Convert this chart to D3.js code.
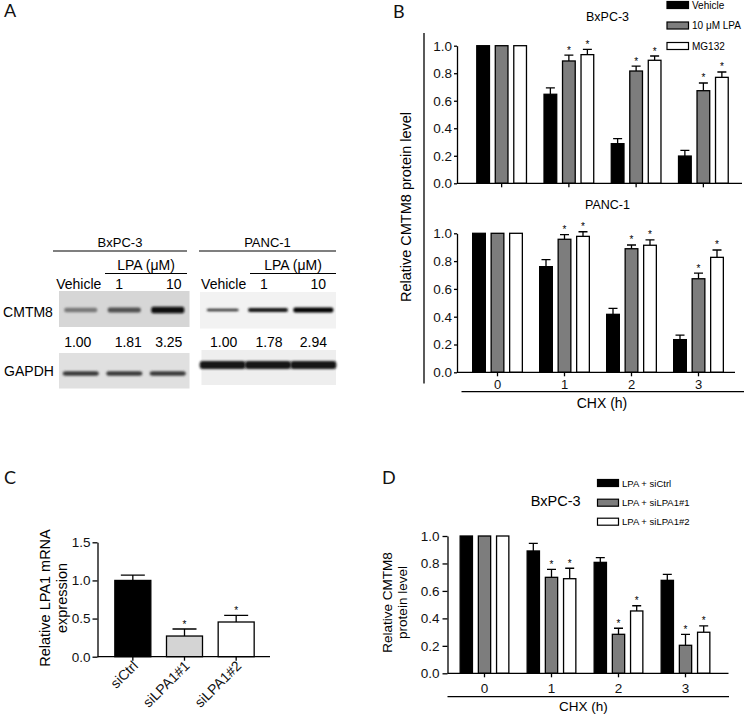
<!DOCTYPE html>
<html><head><meta charset="utf-8">
<script src="https://cdn.jsdelivr.net/npm/d3@7"></script>
<style>body{margin:0;background:#fff}</style>
</head><body>
<script>
// ---------------- data ----------------
const chxHours = ["0","1","2","3"];
const seriesB = ["Vehicle","10 μM LPA","MG132"];
const bxpcVehicle = [1.00,0.647,0.288,0.198];
const bxpcLPA     = [1.00,0.889,0.816,0.673];
const bxpcMG132   = [1.00,0.935,0.894,0.770];
const bxpcVehicleErr = [0,0.046,0.036,0.042];
const bxpcLPAErr     = [0,0.043,0.036,0.056];
const bxpcMG132Err   = [0,0.039,0.031,0.039];
const pancVehicle = [1.00,0.760,0.417,0.235];
const pancLPA     = [1.00,0.957,0.889,0.673];
const pancMG132   = [1.00,0.978,0.914,0.827];
const pancVehicleErr = [0,0.050,0.043,0.033];
const pancLPAErr     = [0,0.033,0.027,0.041];
const pancMG132Err   = [0,0.033,0.038,0.053];
const starsNone = [false,false,false,false];
const starsB    = [false,true,true,true];
const yTicksB = [0,0.2,0.4,0.6,0.8,1.0];

const siGroups = ["siCtrl","siLPA1#1","siLPA1#2"];
const lpa1mRNA    = [1.00,0.271,0.455];
const lpa1mRNAErr = [0.07,0.092,0.087];
const lpa1Stars   = [false,true,true];
const yTicksC = [0,0.5,1.0,1.5];

const seriesD = ["LPA + siCtrl","LPA + siLPA1#1","LPA + siLPA1#2"];
const dSiCtrl = [1.00,0.891,0.808,0.677];
const dSi1    = [1.00,0.699,0.284,0.204];
const dSi2    = [1.00,0.689,0.454,0.299];
const dSiCtrlErr = [0,0.056,0.034,0.044];
const dSi1Err    = [0,0.058,0.044,0.080];
const dSi2Err    = [0,0.076,0.038,0.046];

const blotLanes = ["Vehicle","1","10"];
const bxpcQuant = ["1.00","1.81","3.25"];
const pancQuant = ["1.00","1.78","2.94"];

// ---------------- drawing ----------------
const FONT = "'Liberation Sans', Arial, Helvetica, sans-serif";
const LETTER = "Lato, 'Open Sans', sans-serif";
const fills = ["#000000","#7d7d7d","#ffffff"];
const cFills = ["#000000","#d4d4d4","#ffffff"];

const svg = d3.select("body").append("svg")
  .attr("width",744).attr("height",716)
  .style("font-family",FONT).style("background","#fff");

const defs = svg.append("defs");
defs.append("filter").attr("id","blur").attr("x","-20%").attr("y","-100%").attr("width","140%").attr("height","300%")
  .append("feGaussianBlur").attr("stdDeviation",0.9);

function panelLetter(t,x,y){
  svg.append("text").attr("x",x).attr("y",y).text(t)
    .style("font-family",LETTER).style("font-size","18px").attr("fill","#111");
}

function groupedBars(cfg){
  const g = svg.append("g");
  const x = d3.scaleBand().domain(cfg.groups).range(cfg.bandRange);
  const y = d3.scaleLinear().domain(cfg.yDomain).range(cfg.yRange);
  const n = cfg.series.length;
  const sub = d3.scaleBand().domain(d3.range(n)).range([-cfg.step*n/2, cfg.step*n/2]);
  cfg.series.forEach((s,i)=>{
    const cxf = (k)=> x(k)+x.bandwidth()/2 + (n>1 ? sub(i)+sub.bandwidth()/2 : 0);
    const data = cfg.groups.map((k,j)=>({k, v:s.vals[j], e:s.errs[j], star:s.stars[j],
      fill: Array.isArray(s.fill) ? s.fill[j] : s.fill}));
    g.selectAll(null).data(data.filter(d=>d.e>0)).enter().append("path")
      .attr("d",d=>{const c=cxf(d.k), yt=y(d.v+d.e);
        return `M${c},${y(d.v)}V${yt}M${c-cfg.capW/2},${yt}H${c+cfg.capW/2}`;})
      .attr("stroke","#000").attr("stroke-width",1.3).attr("fill","none");
    g.selectAll(null).data(data).enter().append("rect")
      .attr("x",d=>cxf(d.k)-cfg.barW/2).attr("width",cfg.barW)
      .attr("y",d=>y(d.v)).attr("height",d=>y(0)-y(d.v))
      .attr("fill",d=>d.fill).attr("stroke","#000").attr("stroke-width",1.3);
    g.selectAll(null).data(data.filter(d=>d.star)).enter().append("text")
      .attr("x",d=>cxf(d.k)).attr("y",d=>y(d.v+d.e)-1.5)
      .attr("text-anchor","middle").style("font-size","10px").text("*");
  });
  const ya = g.append("g").attr("transform",`translate(${cfg.axisX0},0)`)
    .call(d3.axisLeft(y).tickValues(cfg.yTicks).tickFormat(cfg.fmt)
      .tickSize(cfg.tickLen).tickSizeOuter(0).tickPadding(cfg.tickPad));
  ya.selectAll("path,line").attr("stroke","#000").attr("stroke-width",1.3);
  ya.selectAll("text").style("font-family",FONT).style("font-size",cfg.tickFont+"px").attr("fill","#111");
  g.append("line").attr("x1",cfg.axisX0).attr("x2",cfg.axisX1)
    .attr("y1",y(0)).attr("y2",y(0)).attr("stroke","#000").attr("stroke-width",1.3);
  g.selectAll(null).data(cfg.groups).enter().append("line")
    .attr("x1",d=>x(d)+x.bandwidth()/2).attr("x2",d=>x(d)+x.bandwidth()/2)
    .attr("y1",y(0)).attr("y2",y(0)+4).attr("stroke","#000").attr("stroke-width",1.3);
  if (cfg.xLabels === "plain"){
    g.selectAll(null).data(cfg.groups).enter().append("text")
      .attr("x",d=>x(d)+x.bandwidth()/2).attr("y",y(0)+cfg.xLabelDy)
      .attr("text-anchor","middle").style("font-size",cfg.xFont+"px").attr("fill","#111").text(d=>d);
  } else if (cfg.xLabels === "rot"){
    g.selectAll(null).data(cfg.groups).enter().append("text")
      .attr("transform",d=>`translate(${x(d)+x.bandwidth()/2+6},${y(0)+cfg.xLabelDy}) rotate(-45)`)
      .attr("text-anchor","end").style("font-size",cfg.xFont+"px").attr("fill","#111").text(d=>d);
  }
  return {x,y};
}

// ---------- Panel A (western blots) ----------
panelLetter("A",4,17);
const aFont = "14px";
function blotSet(cfg){
  const lane = d3.scaleBand().domain(blotLanes).range([cfg.x0,cfg.x1]);
  const lc = d => lane(d)+lane.bandwidth()/2;
  svg.append("text").attr("x",(cfg.lineX0+cfg.lineX1)/2).attr("y",247).attr("text-anchor","middle")
    .style("font-size","13px").text(cfg.cell);
  svg.append("line").attr("x1",cfg.lineX0).attr("x2",cfg.lineX1).attr("y1",251).attr("y2",251)
    .attr("stroke","#000").attr("stroke-width",1.2);
  svg.append("text").attr("x",(cfg.lpaX0+cfg.lineX1)/2).attr("y",269.5).attr("text-anchor","middle")
    .style("font-size",aFont).text("LPA (μM)");
  svg.append("line").attr("x1",cfg.lpaX0).attr("x2",cfg.lineX1).attr("y1",273.5).attr("y2",273.5)
    .attr("stroke","#000").attr("stroke-width",1.2);
  svg.selectAll(null).data(blotLanes).enter().append("text")
    .attr("x",(d,i)=>lc(d)+cfg.labelDx[i]).attr("y",289).attr("text-anchor","middle")
    .style("font-size",aFont).text(d=>d);
  svg.append("rect").attr("x",cfg.x0).attr("y",cfg.c8y0).attr("width",cfg.x1-cfg.x0).attr("height",cfg.c8y1-cfg.c8y0)
    .attr("fill",cfg.c8bg);
  svg.selectAll(null).data(blotLanes).enter().append("rect")
    .attr("x",(d,i)=>lc(d)-cfg.c8w[i]/2).attr("width",(d,i)=>cfg.c8w[i])
    .attr("y",(d,i)=>310-cfg.c8h[i]/2).attr("height",(d,i)=>cfg.c8h[i])
    .attr("rx",2).attr("fill",(d,i)=>cfg.c8col[i]).attr("filter","url(#blur)");
  svg.selectAll(null).data(cfg.quant).enter().append("text")
    .attr("x",(d,i)=>lc(blotLanes[i])+cfg.qDx[i]).attr("y",347).attr("text-anchor","middle")
    .style("font-size",aFont).text(d=>d);
  svg.append("rect").attr("x",cfg.gx0).attr("y",cfg.gy0).attr("width",cfg.gx1-cfg.gx0).attr("height",cfg.gy1-cfg.gy0)
    .attr("fill",cfg.gbg);
  svg.selectAll(null).data(blotLanes).enter().append("rect")
    .attr("x",d=>lc(d)-cfg.gw/2).attr("width",cfg.gw)
    .attr("y",cfg.gBand-cfg.gh/2).attr("height",cfg.gh)
    .attr("rx",3).attr("fill",cfg.gcol).attr("filter","url(#blur)");
}
blotSet({cell:"BxPC-3", lineX0:53, lineX1:187, lpaX0:105, x0:59, x1:189.5,
  labelDx:[-2,-5,6], qDx:[-3,4,1],
  c8y0:291, c8y1:327, c8bg:"#d6d6d6", c8w:[33,33,33], c8h:[4.5,5,6.5], c8col:["#777","#505050","#111"],
  quant:bxpcQuant, gx0:59, gx1:189.5, gy0:353, gy1:388.5, gbg:"#e0e0e0", gBand:373.5, gw:36, gh:4.5, gcol:"#3a3a3a"});
blotSet({cell:"PANC-1", lineX0:199, lineX1:336, lpaX0:250, x0:200, x1:336,
  labelDx:[1,-4,5], qDx:[1,1,0],
  c8y0:292, c8y1:328.5, c8bg:"#f2f2f2", c8w:[32,40,40], c8h:[2.5,4,5], c8col:["#333","#151515","#050505"],
  quant:pancQuant, gx0:201.5, gx1:336, gy0:350, gy1:385, gbg:"#eeeeee", gBand:365, gw:46, gh:8, gcol:"#151515"});
svg.append("text").attr("x",28).attr("y",317).attr("text-anchor","middle").style("font-size",aFont).text("CMTM8");
svg.append("text").attr("x",29).attr("y",375.5).attr("text-anchor","middle").style("font-size",aFont).text("GAPDH");

// ---------- Panel B ----------
panelLetter("B",393,18);
const fmt1 = d3.format(".1f");
groupedBars({groups:chxHours, bandRange:[468,737], yDomain:[0,1], yRange:[183.3,45.7],
  axisX0:457, axisX1:742, step:18.5, barW:12.7, capW:9, yTicks:yTicksB, fmt:fmt1,
  tickLen:3, tickPad:2, tickFont:13.5, xLabels:"none",
  series:[{vals:bxpcVehicle, errs:bxpcVehicleErr, fill:fills[0], stars:starsNone},
          {vals:bxpcLPA, errs:bxpcLPAErr, fill:fills[1], stars:starsB},
          {vals:bxpcMG132, errs:bxpcMG132Err, fill:fills[2], stars:starsB}]});
groupedBars({groups:chxHours, bandRange:[464,732], yDomain:[0,1], yRange:[372.3,233.3],
  axisX0:457, axisX1:735, step:18.5, barW:12.7, capW:9, yTicks:yTicksB, fmt:fmt1,
  tickLen:3, tickPad:2, tickFont:13.5, xLabels:"plain", xLabelDy:16.2, xFont:13,
  series:[{vals:pancVehicle, errs:pancVehicleErr, fill:fills[0], stars:starsNone},
          {vals:pancLPA, errs:pancLPAErr, fill:fills[1], stars:starsB},
          {vals:pancMG132, errs:pancMG132Err, fill:fills[2], stars:starsB}]});
svg.append("text").attr("x",607.5).attr("y",21).attr("text-anchor","middle").style("font-size","12.5px").text("BxPC-3");
svg.append("text").attr("x",607.5).attr("y",208.5).attr("text-anchor","middle").style("font-size","12.5px").text("PANC-1");
svg.append("line").attr("x1",424).attr("x2",424).attr("y1",33).attr("y2",383.5).attr("stroke","#000").attr("stroke-width",1.3);
svg.append("line").attr("x1",461.5).attr("x2",744).attr("y1",391.7).attr("y2",391.7).attr("stroke","#000").attr("stroke-width",1.3);
svg.append("text").attr("x",602).attr("y",407.5).attr("text-anchor","middle").style("font-size","14px").text("CHX (h)");
svg.append("text").attr("transform","translate(406,207) rotate(-90)").attr("dy","0.35em")
  .attr("text-anchor","middle").style("font-size","14.5px").text("Relative CMTM8 protein level");
const legB = svg.append("g");
legB.selectAll(null).data(seriesB).enter().append("rect")
  .attr("x",667).attr("y",(d,i)=>1.5+i*20.5).attr("width",21.5).attr("height",7)
  .attr("fill",(d,i)=>fills[i]).attr("stroke","#000").attr("stroke-width",1.2);
legB.selectAll(null).data(seriesB).enter().append("text")
  .attr("x",692).attr("y",(d,i)=>8.5+i*20.5).style("font-size","10px").text(d=>d);

// ---------- Panel C ----------
panelLetter("C",4,484);
groupedBars({groups:siGroups, bandRange:[107,262], yDomain:[0,1.5], yRange:[656.7,542.3],
  axisX0:97.5, axisX1:270, step:0, barW:36, capW:24, yTicks:yTicksC, fmt:fmt1,
  tickLen:5, tickPad:2, tickFont:13.5, xLabels:"rot", xLabelDy:10, xFont:14,
  series:[{vals:lpa1mRNA, errs:lpa1mRNAErr, fill:cFills, stars:lpa1Stars}]});
svg.append("text").attr("transform","translate(45,598) rotate(-90)").attr("dy","0.35em")
  .attr("text-anchor","middle").style("font-size","14.5px").text("Relative LPA1 mRNA");
svg.append("text").attr("transform","translate(62,598) rotate(-90)").attr("dy","0.35em")
  .attr("text-anchor","middle").style("font-size","14.5px").text("expression");

// ---------- Panel D ----------
panelLetter("D",382,484);
groupedBars({groups:chxHours, bandRange:[451,719], yDomain:[0,1], yRange:[673.3,536],
  axisX0:447.5, axisX1:728.5, step:18.2, barW:12.3, capW:9, yTicks:yTicksB, fmt:fmt1,
  tickLen:5, tickPad:3, tickFont:13.5, xLabels:"plain", xLabelDy:19.5, xFont:13.5,
  series:[{vals:dSiCtrl, errs:dSiCtrlErr, fill:fills[0], stars:starsNone},
          {vals:dSi1, errs:dSi1Err, fill:fills[1], stars:starsB},
          {vals:dSi2, errs:dSi2Err, fill:fills[2], stars:starsB}]});
svg.append("line").attr("x1",447.5).attr("x2",729).attr("y1",696.7).attr("y2",696.7).attr("stroke","#000").attr("stroke-width",1.3);
svg.append("text").attr("x",583.5).attr("y",710.5).attr("text-anchor","middle").style("font-size","13.5px").text("CHX (h)");
svg.append("text").attr("x",555.7).attr("y",506).attr("text-anchor","middle").style("font-size","14.5px").text("BxPC-3");
svg.append("text").attr("transform","translate(387.3,602.5) rotate(-90)").attr("dy","0.35em")
  .attr("text-anchor","middle").style("font-size","13.5px").text("Relative CMTM8");
svg.append("text").attr("transform","translate(402.5,602.5) rotate(-90)").attr("dy","0.35em")
  .attr("text-anchor","middle").style("font-size","13.5px").text("protein level");
const legD = svg.append("g");
const legDy = [483,502.7,521.7];
legD.selectAll(null).data(seriesD).enter().append("rect")
  .attr("x",597.5).attr("y",(d,i)=>legDy[i]-3.5).attr("width",21).attr("height",7)
  .attr("fill",(d,i)=>fills[i]).attr("stroke","#000").attr("stroke-width",1.2);
legD.selectAll(null).data(seriesD).enter().append("text")
  .attr("x",622).attr("y",(d,i)=>legDy[i]+3.5).style("font-size","9.5px").text(d=>d);
</script>
</body></html>
